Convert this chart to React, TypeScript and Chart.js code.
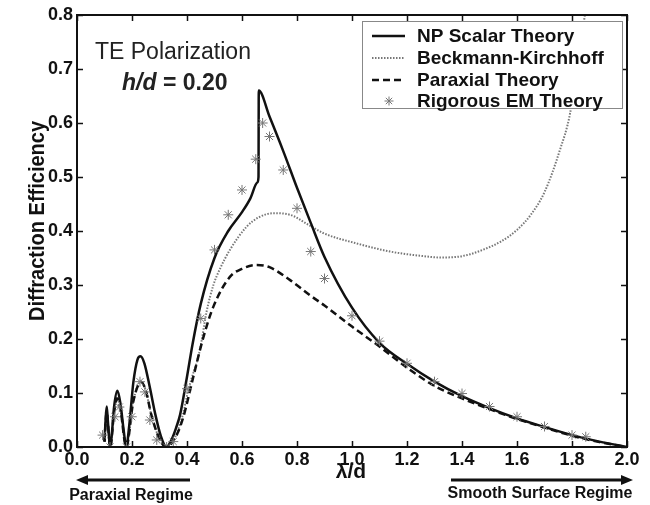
import React, { useEffect, useRef } from "react";
import { Chart, registerables } from "chart.js";

Chart.register(...registerables);

// ---- Data ----
const xTicks = [0, 0.2, 0.4, 0.6, 0.8, 1.0, 1.2, 1.4, 1.6, 1.8, 2.0];
const yTicks = [0, 0.1, 0.2, 0.3, 0.4, 0.5, 0.6, 0.7, 0.8];

const npX = [0.100, 0.104, 0.108, 0.112, 0.118, 0.121, 0.126, 0.135, 0.147, 0.158, 0.170, 0.179, 0.190, 0.205, 0.220, 0.231, 0.245, 0.265, 0.285, 0.305, 0.325, 0.345, 0.360, 0.375, 0.400, 0.420, 0.450, 0.500, 0.550, 0.600, 0.630, 0.656, 0.660, 0.661, 0.700, 0.750, 0.800, 0.850, 0.900, 1.000, 1.100, 1.200, 1.300, 1.400, 1.500, 1.600, 1.700, 1.800, 1.900, 2.000];
const npY = [0.010, 0.050, 0.075, 0.050, 0.010, 0.000, 0.020, 0.075, 0.104, 0.080, 0.030, 0.000, 0.040, 0.120, 0.162, 0.168, 0.155, 0.110, 0.060, 0.020, 0.000, 0.015, 0.035, 0.060, 0.130, 0.190, 0.265, 0.350, 0.400, 0.435, 0.460, 0.490, 0.500, 0.660, 0.612, 0.548, 0.480, 0.415, 0.352, 0.258, 0.193, 0.154, 0.121, 0.094, 0.072, 0.053, 0.037, 0.022, 0.010, 0.000];

const bkX = [0.100, 0.104, 0.108, 0.112, 0.121, 0.135, 0.147, 0.158, 0.179, 0.205, 0.233, 0.250, 0.270, 0.300, 0.325, 0.345, 0.365, 0.385, 0.405, 0.447, 0.471, 0.496, 0.520, 0.556, 0.617, 0.660, 0.714, 0.775, 0.840, 0.896, 1.017, 1.138, 1.250, 1.320, 1.380, 1.430, 1.480, 1.540, 1.600, 1.650, 1.700, 1.756, 1.793, 1.817, 1.847, 1.865];
const bkY = [0.010, 0.045, 0.068, 0.045, 0.000, 0.066, 0.092, 0.070, 0.000, 0.085, 0.122, 0.105, 0.060, 0.015, 0.000, 0.008, 0.028, 0.060, 0.106, 0.180, 0.250, 0.300, 0.330, 0.365, 0.408, 0.425, 0.433, 0.430, 0.412, 0.396, 0.377, 0.362, 0.354, 0.351, 0.352, 0.357, 0.366, 0.380, 0.402, 0.430, 0.472, 0.550, 0.618, 0.704, 0.800, 0.860];

const pxX = [0.100, 0.104, 0.108, 0.112, 0.121, 0.135, 0.147, 0.158, 0.179, 0.205, 0.233, 0.250, 0.270, 0.300, 0.325, 0.345, 0.365, 0.387, 0.423, 0.460, 0.496, 0.556, 0.600, 0.653, 0.700, 0.775, 0.847, 0.900, 1.000, 1.100, 1.200, 1.300, 1.400, 1.500, 1.600, 1.700, 1.800, 1.900, 2.000];
const pxY = [0.010, 0.045, 0.065, 0.045, 0.000, 0.065, 0.090, 0.070, 0.000, 0.085, 0.120, 0.105, 0.060, 0.015, 0.000, 0.008, 0.025, 0.056, 0.130, 0.204, 0.260, 0.315, 0.330, 0.337, 0.333, 0.309, 0.281, 0.262, 0.223, 0.186, 0.147, 0.113, 0.090, 0.070, 0.052, 0.036, 0.021, 0.009, 0.000];

const emX = [0.093, 0.120, 0.138, 0.154, 0.180, 0.199, 0.229, 0.247, 0.265, 0.290, 0.326, 0.350, 0.400, 0.450, 0.500, 0.550, 0.600, 0.650, 0.675, 0.700, 0.750, 0.800, 0.850, 0.900, 1.000, 1.100, 1.200, 1.300, 1.400, 1.500, 1.600, 1.700, 1.800, 1.850];
const emY = [0.022, 0.000, 0.056, 0.074, 0.000, 0.056, 0.121, 0.102, 0.050, 0.013, 0.000, 0.010, 0.108, 0.238, 0.365, 0.430, 0.476, 0.533, 0.600, 0.575, 0.513, 0.442, 0.362, 0.312, 0.243, 0.196, 0.155, 0.121, 0.099, 0.075, 0.056, 0.038, 0.022, 0.019];

const seriesNames = ["NP Scalar Theory", "Beckmann-Kirchhoff", "Paraxial Theory", "Rigorous EM Theory"];

const FONT = "'Liberation Sans', Arial, sans-serif";
const toPts = (xs: number[], ys: number[]) => xs.map((x, i) => ({ x, y: ys[i] }));

const overlay = {
  id: "overlay",
  afterDraw(chart: any) {
    const { ctx, chartArea: a, scales } = chart;
    const xs = scales.x, ys = scales.y;
    ctx.save();
    // frame
    ctx.strokeStyle = "#111";
    ctx.lineWidth = 2;
    ctx.strokeRect(a.left, a.top, a.right - a.left, a.bottom - a.top);
    // inward ticks
    ctx.lineWidth = 1.5;
    ctx.beginPath();
    xTicks.forEach((v) => {
      const p = Math.round(xs.getPixelForValue(v)) + 0.5;
      ctx.moveTo(p, a.bottom); ctx.lineTo(p, a.bottom - 6);
      ctx.moveTo(p, a.top); ctx.lineTo(p, a.top + 6);
    });
    yTicks.forEach((v) => {
      const p = Math.round(ys.getPixelForValue(v)) + 0.5;
      ctx.moveTo(a.left, p); ctx.lineTo(a.left + 6, p);
      ctx.moveTo(a.right, p); ctx.lineTo(a.right - 6, p);
    });
    ctx.stroke();

    // legend
    const L = 362, T = 21, R = 622, B = 108;
    ctx.fillStyle = "#fff";
    ctx.fillRect(L, T, R - L, B - T);
    ctx.strokeStyle = "#888";
    ctx.lineWidth = 1;
    ctx.strokeRect(L + 0.5, T + 0.5, R - L, B - T);
    const rows = [36, 58, 80, 101];
    const ds = chart.data.datasets;
    rows.forEach((ry, i) => {
      const d = ds[i];
      ctx.save();
      if (i < 3) {
        ctx.strokeStyle = d.borderColor;
        ctx.lineWidth = d.borderWidth;
        ctx.setLineDash(d.borderDash || []);
        ctx.beginPath();
        ctx.moveTo(372, ry); ctx.lineTo(405, ry);
        ctx.stroke();
      } else {
        ctx.strokeStyle = d.borderColor;
        ctx.lineWidth = 1;
        const cx = 389, r = 4.5;
        ctx.beginPath();
        for (let k = 0; k < 4; k++) {
          const ang = (k * Math.PI) / 4;
          ctx.moveTo(cx - r * Math.cos(ang), ry - r * Math.sin(ang));
          ctx.lineTo(cx + r * Math.cos(ang), ry + r * Math.sin(ang));
        }
        ctx.stroke();
      }
      ctx.restore();
      ctx.fillStyle = "#111";
      ctx.font = `bold 19px ${FONT}`;
      ctx.textBaseline = "middle";
      ctx.textAlign = "left";
      ctx.fillText(seriesNames[i], 417, ry + 1);
    });

    // annotations
    ctx.fillStyle = "#222";
    ctx.textBaseline = "middle";
    ctx.textAlign = "left";
    ctx.font = `23px ${FONT}`;
    ctx.fillText("TE Polarization", 95, 53);
    ctx.font = `italic bold 23px ${FONT}`;
    ctx.fillText("h/d", 122, 84);
    const w = ctx.measureText("h/d").width;
    ctx.font = `bold 23px ${FONT}`;
    ctx.fillText(" = 0.20", 122 + w, 84);

    // axis titles
    ctx.fillStyle = "#111";
    ctx.save();
    ctx.translate(44, 221);
    ctx.rotate(-Math.PI / 2);
    ctx.scale(1, 1.12);
    ctx.textAlign = "center";
    ctx.textBaseline = "alphabetic";
    ctx.font = `bold 20px ${FONT}`;
    ctx.fillText("Diffraction Efficiency", 0, 0);
    ctx.restore();
    ctx.textAlign = "center";
    ctx.textBaseline = "middle";
    ctx.font = `bold 21px ${FONT}`;
    ctx.fillText("λ/d", 351, 472);

    // regime arrows
    ctx.strokeStyle = "#111";
    ctx.fillStyle = "#111";
    ctx.lineWidth = 3;
    ctx.beginPath();
    ctx.moveTo(84, 480); ctx.lineTo(190, 480);
    ctx.moveTo(451, 480); ctx.lineTo(624, 480);
    ctx.stroke();
    ctx.beginPath();
    ctx.moveTo(76, 480); ctx.lineTo(88, 475); ctx.lineTo(88, 485); ctx.closePath();
    ctx.moveTo(633, 480); ctx.lineTo(621, 475); ctx.lineTo(621, 485); ctx.closePath();
    ctx.fill();
    ctx.font = `bold 16px ${FONT}`;
    ctx.fillText("Paraxial Regime", 131, 496);
    ctx.fillText("Smooth Surface Regime", 540, 494);
    ctx.restore();
  },
};

export default function App() {
  const ref = useRef<HTMLCanvasElement>(null);
  useEffect(() => {
    if (!ref.current) return;
    const chart = new Chart(ref.current, {
      type: "scatter",
      data: {
        datasets: [
          {
            label: seriesNames[0],
            data: toPts(npX, npY),
            showLine: true,
            borderColor: "#111",
            borderWidth: 2.5,
            pointRadius: 0,
            cubicInterpolationMode: "monotone",
            order: 1,
          },
          {
            label: seriesNames[1],
            data: toPts(bkX, bkY),
            showLine: true,
            borderColor: "#777",
            borderWidth: 2,
            borderDash: [1.5, 1.5],
            pointRadius: 0,
            cubicInterpolationMode: "monotone",
            order: 3,
          },
          {
            label: seriesNames[2],
            data: toPts(pxX, pxY),
            showLine: true,
            borderColor: "#111",
            borderWidth: 2.5,
            borderDash: [7, 4],
            pointRadius: 0,
            cubicInterpolationMode: "monotone",
            order: 2,
          },
          {
            label: seriesNames[3],
            data: toPts(emX, emY),
            showLine: false,
            pointStyle: "star",
            pointRadius: 5,
            borderColor: "#777",
            backgroundColor: "#777",
            pointBorderWidth: 1,
            order: 0,
          },
        ] as any,
      },
      options: {
        animation: false,
        responsive: false,
        devicePixelRatio: 1,
        layout: { padding: { left: 0, right: 23, top: 15, bottom: 0 } },
        plugins: { legend: { display: false }, tooltip: { enabled: false } },
        scales: {
          x: {
            type: "linear",
            min: 0,
            max: 2,
            afterBuildTicks: (s: any) => { s.ticks = xTicks.map((v) => ({ value: v })); },
            afterFit: (s: any) => { s.height = 58; },
            ticks: {
              callback: (v: any) => Number(v).toFixed(1),
              font: { family: FONT, size: 18, weight: "bold" },
              color: "#111",
              padding: 2,
              maxRotation: 0,
            },
            grid: { display: false, drawTicks: false },
            border: { display: false },
          },
          y: {
            type: "linear",
            min: 0,
            max: 0.8,
            afterBuildTicks: (s: any) => { s.ticks = yTicks.map((v) => ({ value: v })); },
            afterFit: (s: any) => { s.width = 77; },
            ticks: {
              callback: (v: any) => Number(v).toFixed(1),
              font: { family: FONT, size: 18, weight: "bold" },
              color: "#111",
              padding: 4,
            },
            grid: { display: false, drawTicks: false },
            border: { display: false },
          },
        },
      } as any,
      plugins: [overlay],
    });
    return () => chart.destroy();
  }, []);
  return (
    <div style={{ position: "fixed", left: 0, top: 0, width: 650, height: 505, background: "#fff" }}>
      <canvas ref={ref} width={650} height={505} style={{ width: 650, height: 505 }} />
    </div>
  );
}
